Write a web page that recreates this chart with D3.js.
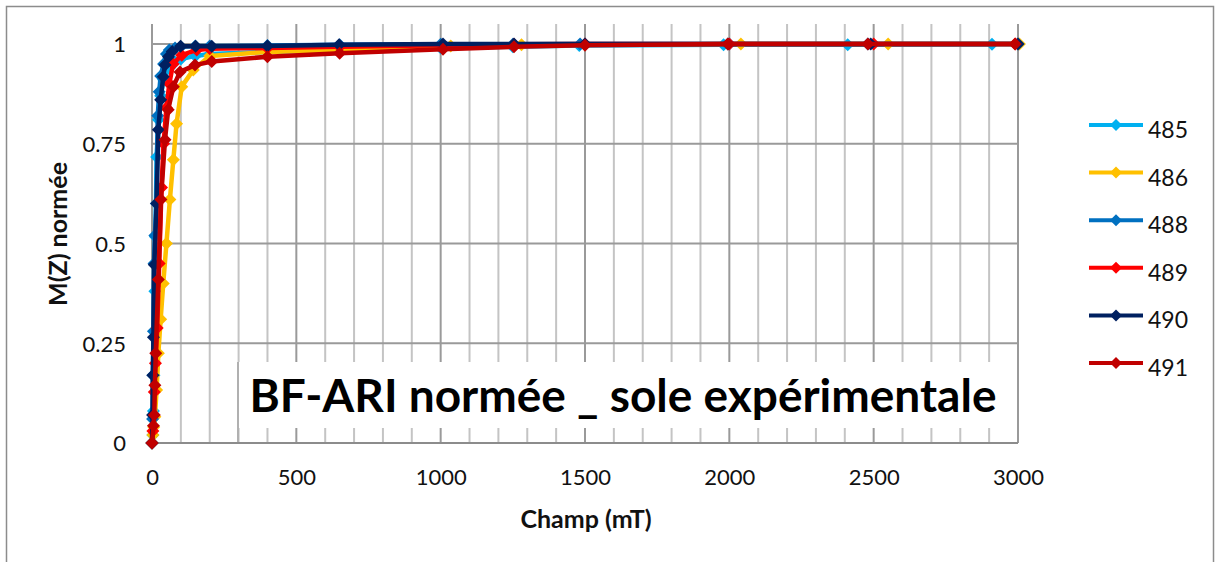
<!DOCTYPE html>
<html><head><meta charset="utf-8">
<script src="https://cdn.jsdelivr.net/npm/d3@7"></script>
<style>
html,body{margin:0;padding:0;background:#fff;}
svg{display:block;font-family:Lato,"Open Sans",sans-serif;}
</style></head>
<body>
<svg id="chart" width="1215" height="562"></svg>
<script>
// ---- data ----
const seriesNames = ["485", "486", "488", "489", "490", "491"];
const seriesColors = ["#00B0F0", "#FFC000", "#0070C0", "#FF0000", "#002060", "#C00000"];

const field485 = [0, 3, 5, 7, 8, 10, 12, 16, 22, 30, 40, 60, 80, 100, 150, 200, 400, 650, 1000, 1250, 1480, 1980, 2410, 2910];
const mz485    = [0, 0.02, 0.08, 0.17, 0.28, 0.38, 0.517, 0.717, 0.81, 0.87, 0.91, 0.94, 0.955, 0.962, 0.97, 0.975, 0.98, 0.985, 0.99, 0.993, 0.996, 0.998, 0.998, 0.999];

const field486 = [0, 3, 6, 10, 16, 22, 30, 39, 50, 62, 74, 85, 103, 143, 200, 400, 650, 1035, 1280, 1500, 2040, 2550, 3005];
const mz486    = [0, 0.02, 0.04, 0.066, 0.133, 0.225, 0.31, 0.40, 0.50, 0.61, 0.71, 0.80, 0.893, 0.935, 0.97, 0.98, 0.985, 0.995, 0.998, 0.998, 1, 1, 1];

const field488 = [0, 2, 3, 5, 7, 10, 15, 20, 25, 30, 40, 50, 60, 80, 100, 150, 200, 400, 650, 1000, 1250, 1483, 2000, 2480, 3000];
const mz488    = [0, 0.06, 0.17, 0.28, 0.45, 0.52, 0.60, 0.82, 0.88, 0.92, 0.95, 0.975, 0.985, 0.99, 0.993, 0.995, 0.995, 0.996, 0.998, 0.999, 0.999, 1, 1, 1, 1];

const field489 = [0, 3, 5, 8, 12, 18, 25, 33, 40, 50, 60, 73, 103, 155, 200, 400, 650, 1008, 1254, 1500, 2000, 2500, 2990];
const mz489    = [0, 0.03, 0.07, 0.128, 0.20, 0.288, 0.45, 0.64, 0.75, 0.84, 0.90, 0.95, 0.972, 0.985, 0.988, 0.99, 0.993, 0.997, 0.999, 1, 1, 1, 1];

const field490 = [0, 2, 3, 5, 8, 16, 22, 30, 39, 45, 57, 70, 99, 151, 207, 400, 648, 1008, 1254, 1500, 1995, 2490, 3000];
const mz490    = [0, 0.07, 0.17, 0.265, 0.447, 0.60, 0.785, 0.86, 0.918, 0.947, 0.968, 0.981, 0.994, 0.994, 0.994, 0.995, 0.998, 1, 1, 1, 1, 1, 1];

const field491 = [0, 5, 8, 10, 13, 22, 31, 45, 56, 74, 97, 149, 207, 400, 650, 1008, 1254, 1500, 1995, 2480, 2990];
const mz491    = [0, 0.043, 0.07, 0.145, 0.225, 0.41, 0.61, 0.76, 0.835, 0.893, 0.93, 0.947, 0.956, 0.968, 0.977, 0.987, 0.993, 0.997, 1, 1, 1];

const fields = [field485, field486, field488, field489, field490, field491];
const values = [mz485, mz486, mz488, mz489, mz490, mz491];

const xTicks = [0, 500, 1000, 1500, 2000, 2500, 3000];
const xTickLabels = ["0", "500", "1000", "1500", "2000", "2500", "3000"];
const yTicks = [0, 0.25, 0.5, 0.75, 1];
const yTickLabels = ["0", "0.25", "0.5", "0.75", "1"];
const xTitle = "Champ (mT)";
const yTitle = "M(Z) normée";
const chartTitle = "BF-ARI normée _ sole expérimentale";

// ---- layout ----
const svg = d3.select("#chart");
const x = d3.scaleLinear().domain([0, 3000]).range([152, 1018]);
const y = d3.scaleLinear().domain([0, 1.05]).range([443, 24]);

// outer border
svg.append("rect").attr("x", 6.5).attr("y", 6.5).attr("width", 1207).attr("height", 620)
  .attr("fill", "#fff").attr("stroke", "#8c8c8c").attr("stroke-width", 1.5);

const g = svg.append("g");

// vertical gridlines (minor every 100, major every 500)
const vgrid = d3.range(100, 3001, 100);
g.selectAll("line.vg").data(vgrid).join("line")
  .attr("x1", d => x(d)).attr("x2", d => x(d))
  .attr("y1", y(1.05)).attr("y2", y(0))
  .attr("stroke", d => d % 500 === 0 ? "#9a9a9a" : "#c4c4c4")
  .attr("stroke-width", 2);

// horizontal gridlines
g.selectAll("line.hg").data(yTicks.filter(d => d > 0)).join("line")
  .attr("x1", x(0)).attr("x2", x(3000))
  .attr("y1", d => y(d)).attr("y2", d => y(d))
  .attr("stroke", "#9a9a9a").attr("stroke-width", 2);

// title box (covers gridlines)
const boxX0 = 238, boxTop = 362, boxFillBottom = 428;
g.append("rect").attr("x", boxX0).attr("y", boxTop)
  .attr("width", x(3000) - boxX0).attr("height", boxFillBottom - boxTop)
  .attr("fill", "#fff");
g.append("line").attr("x1", boxX0).attr("x2", boxX0).attr("y1", boxTop).attr("y2", y(0))
  .attr("stroke", "#b0b0b0").attr("stroke-width", 2);
g.append("line").attr("x1", x(3000)).attr("x2", x(3000)).attr("y1", boxTop).attr("y2", y(0))
  .attr("stroke", "#9a9a9a").attr("stroke-width", 2);

// axes lines
g.append("line").attr("x1", x(0)).attr("x2", x(0)).attr("y1", y(1.05)).attr("y2", y(0))
  .attr("stroke", "#9a9a9a").attr("stroke-width", 2);
g.append("line").attr("x1", x(0)).attr("x2", x(3000)).attr("y1", y(0)).attr("y2", y(0))
  .attr("stroke", "#8c8c8c").attr("stroke-width", 2);

// axis tick labels using d3 axes
const xAxis = d3.axisBottom(x).tickValues(xTicks).tickFormat((d, i) => xTickLabels[i]).tickSize(0).tickPadding(0);
const xa = svg.append("g").attr("transform", `translate(0,${y(0)})`).call(xAxis);
xa.select(".domain").remove();
xa.selectAll("text").attr("font-size", 22).attr("fill", "#111").attr("font-family", "Lato")
  .attr("dy", null).attr("y", 42);

const yAxis = d3.axisLeft(y).tickValues(yTicks).tickFormat((d, i) => yTickLabels[i]).tickSize(0).tickPadding(0);
const ya = svg.append("g").attr("transform", `translate(126,0)`).call(yAxis);
ya.select(".domain").remove();
ya.selectAll("text").attr("font-size", 22).attr("fill", "#111").attr("font-family", "Lato")
  .attr("dy", "0.36em");

// chart title
svg.append("text").attr("x", 623).attr("y", 412).attr("text-anchor", "middle")
  .attr("font-size", 46).attr("font-weight", "bold").attr("fill", "#000")
  .text(chartTitle);

// axis titles
svg.append("text").attr("x", 586).attr("y", 528).attr("text-anchor", "middle")
  .attr("font-size", 25).attr("font-weight", "bold").attr("fill", "#111").text(xTitle);
svg.append("text").attr("transform", "translate(67,234) rotate(-90)").attr("text-anchor", "middle")
  .attr("font-size", 25).attr("font-weight", "bold").attr("fill", "#111").text(yTitle);

// series
const diamond = r => `M0,${-r}L${r},0L0,${r}L${-r},0Z`;
const line = d3.line().x(d => x(d[0])).y(d => y(d[1]));
seriesNames.forEach((name, i) => {
  const pts = fields[i].map((f, j) => [f, values[i][j]]);
  const sg = svg.append("g");
  sg.append("path").datum(pts).attr("d", line)
    .attr("fill", "none").attr("stroke", seriesColors[i]).attr("stroke-width", 4.5)
    .attr("stroke-linejoin", "round");
  sg.selectAll("path.m").data(pts).join("path").attr("class", "m")
    .attr("transform", d => `translate(${x(d[0])},${y(d[1])})`)
    .attr("d", diamond(6.5)).attr("fill", seriesColors[i]);
});

// legend
const leg = svg.append("g");
seriesNames.forEach((name, i) => {
  const ly = 125 + i * 47.6;
  leg.append("line").attr("x1", 1089).attr("x2", 1143).attr("y1", ly).attr("y2", ly)
    .attr("stroke", seriesColors[i]).attr("stroke-width", 4);
  leg.append("path").attr("transform", `translate(1116,${ly})`).attr("d", diamond(6)).attr("fill", seriesColors[i]);
  leg.append("text").attr("x", 1148).attr("y", ly + 4).attr("dominant-baseline", "central")
    .attr("font-size", 23).attr("fill", "#111").text(name);
});
</script>
</body></html>
